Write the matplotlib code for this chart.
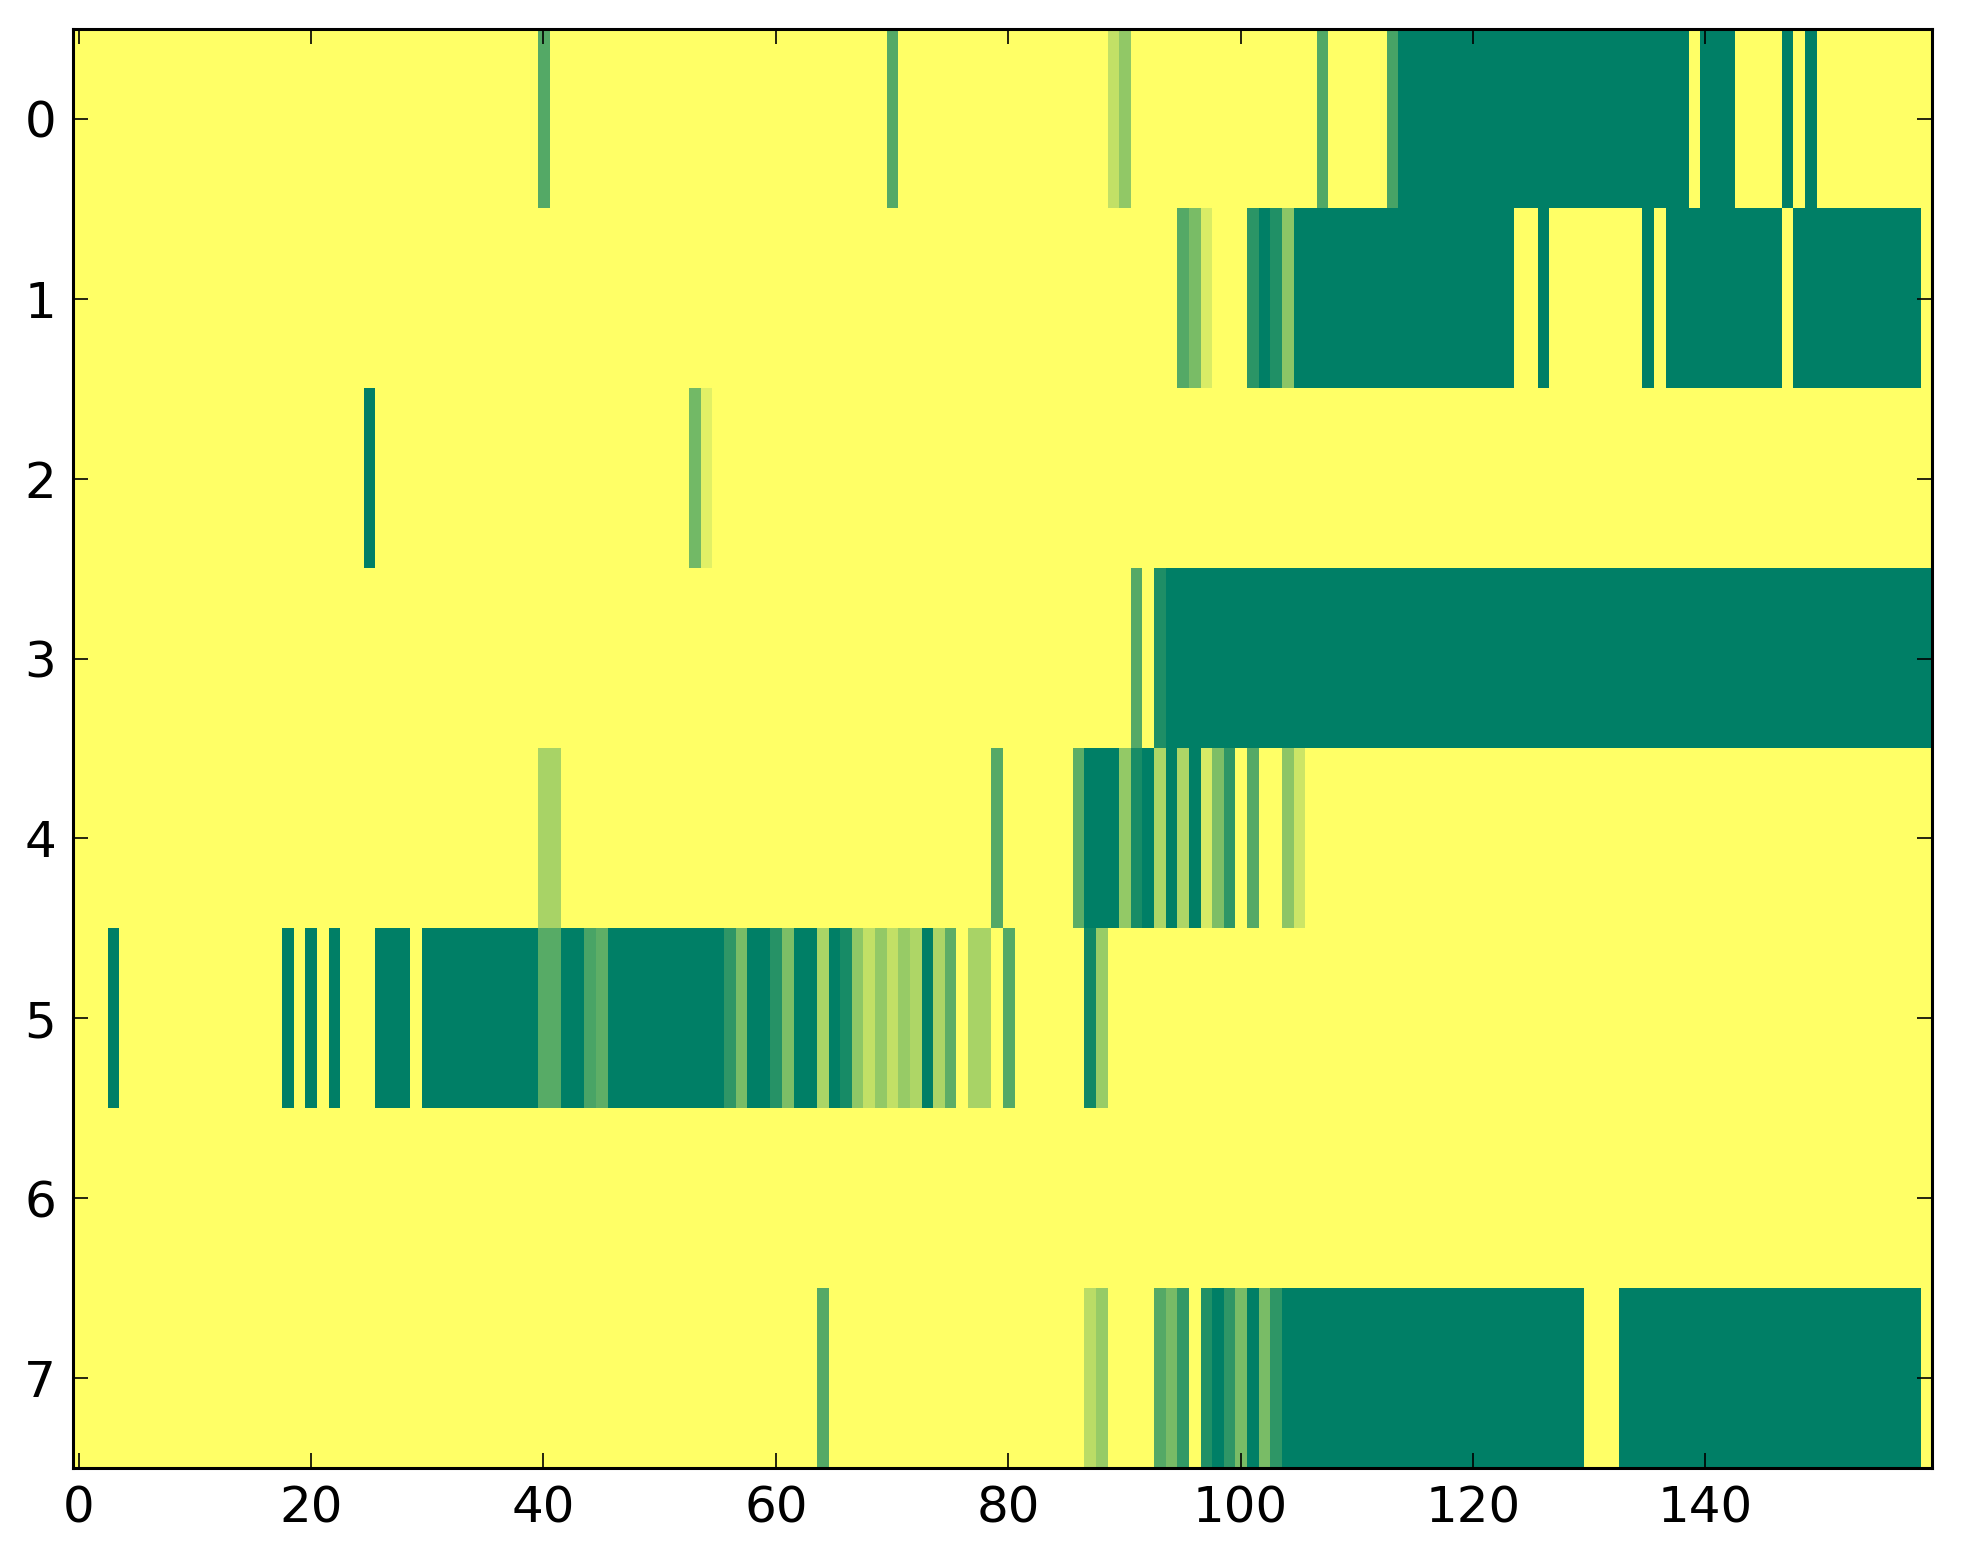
import numpy as np
import matplotlib
matplotlib.use("Agg")
import matplotlib.pyplot as plt

# --- data: each row is a list of (first_col, last_col, value); other cells are 0 ---
n_cols = 160

row0 = [(40, 40, 0.67), (70, 70, 0.67), (89, 89, 0.24), (90, 90, 0.43),
        (107, 107, 0.68), (113, 113, 0.72), (114, 138, 1.0), (140, 142, 1.0),
        (147, 147, 1.0), (149, 149, 1.0)]
row1 = [(95, 95, 0.67), (96, 96, 0.52), (97, 97, 0.15), (101, 101, 0.83),
        (102, 102, 1.0), (103, 103, 0.87), (104, 104, 0.45), (105, 123, 1.0),
        (126, 126, 1.0), (135, 135, 1.0), (137, 146, 1.0), (148, 158, 1.0)]
row2 = [(25, 25, 1.0), (53, 53, 0.55), (54, 54, 0.12)]
row3 = [(91, 91, 0.67), (93, 93, 0.88), (94, 159, 1.0)]
row4 = [(40, 41, 0.34), (79, 79, 0.67), (86, 86, 0.64), (87, 89, 1.0),
        (90, 90, 0.42), (91, 91, 0.90), (92, 92, 1.0), (93, 93, 0.32),
        (94, 94, 1.0), (95, 95, 0.32), (96, 96, 1.0), (97, 97, 0.16),
        (98, 98, 0.51), (99, 99, 0.82), (101, 101, 0.67), (104, 104, 0.45),
        (105, 105, 0.20)]
row5 = [(3, 3, 1.0), (18, 18, 1.0), (20, 20, 1.0), (22, 22, 1.0),
        (26, 28, 1.0), (30, 39, 1.0), (40, 41, 0.66), (42, 43, 1.0),
        (44, 44, 0.71), (45, 45, 0.63), (46, 55, 1.0), (56, 56, 0.82),
        (57, 57, 0.52), (58, 59, 1.0), (60, 60, 0.85), (61, 61, 0.51),
        (62, 63, 1.0), (64, 64, 0.33), (65, 65, 1.0), (66, 66, 0.91),
        (67, 67, 0.44), (68, 68, 0.24), (69, 69, 0.42), (70, 70, 0.24),
        (71, 71, 0.41), (72, 72, 0.32), (73, 73, 1.0), (74, 74, 0.33),
        (75, 75, 0.64), (77, 78, 0.34), (80, 80, 0.67), (87, 87, 0.93),
        (88, 88, 0.40)]
row6 = []
row7 = [(64, 64, 0.67), (87, 87, 0.27), (88, 88, 0.41), (93, 93, 0.67),
        (94, 94, 0.53), (95, 95, 0.80), (97, 97, 0.87), (98, 98, 1.0),
        (99, 99, 0.82), (100, 100, 0.52), (101, 101, 1.0), (102, 102, 0.52),
        (103, 103, 0.82), (104, 129, 1.0), (133, 158, 1.0)]

rows = [row0, row1, row2, row3, row4, row5, row6, row7]

# --- build the matrix ---
grid = np.zeros((len(rows), n_cols))
for r, runs in enumerate(rows):
    for first, last, val in runs:
        grid[r, first:last + 1] = val

# --- plot ---
fig = plt.figure(figsize=(1963 / 200, 1564 / 200), dpi=200)
ax = fig.add_axes([0.0371, 0.0614, 0.9471, 0.9201])
ax.imshow(grid, cmap="summer_r", vmin=0, vmax=1, aspect="auto",
          interpolation="nearest")

ax.set_yticks(range(len(rows)))
ax.set_xticks(range(0, 160, 20))
ax.tick_params(direction="in", top=True, right=True, length=5.4, width=0.6,
               labelsize=18, pad=6)
for s in ax.spines.values():
    s.set_linewidth(1.1)

fig.savefig("out.png", dpi=200)
